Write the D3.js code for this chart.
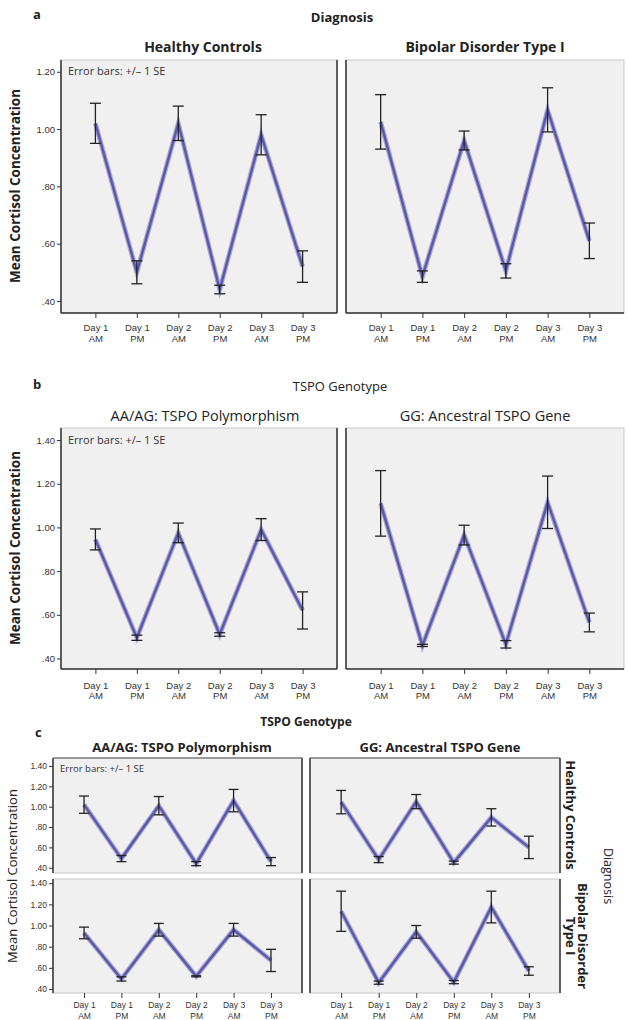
<!DOCTYPE html>
<html><head><meta charset="utf-8">
<script src="https://cdn.jsdelivr.net/npm/d3@7"></script>
<style>
html,body{margin:0;padding:0;background:#fff;}
svg{display:block;font-family:"Open Sans","DejaVu Sans",sans-serif;}
</style></head>
<body>
<svg id="chart" width="628" height="1020"></svg>
<script>
// ---------- DATA ----------
const timeDay = ["Day 1","Day 1","Day 2","Day 2","Day 3","Day 3"];
const timeHalf = ["AM","PM","AM","PM","AM","PM"];
const timepoints = timeDay.map((d,i)=>d+" "+timeHalf[i]);

const ticksAB_a = [0.40,0.60,0.80,1.00,1.20];
const ticksAB_b = [0.40,0.60,0.80,1.00,1.20,1.40];
const ticksC = [0.40,0.60,0.80,1.00,1.20,1.40];

// Panel a: Diagnosis
const aHealthyMean = [1.02,0.50,1.02,0.44,0.98,0.52];
const aHealthySE   = [0.07,0.04,0.06,0.015,0.07,0.055];
const aBipolarMean = [1.025,0.485,0.96,0.505,1.067,0.61];
const aBipolarSE   = [0.095,0.02,0.033,0.025,0.077,0.062];

// Panel b: TSPO genotype
const bPolyMean = [0.945,0.495,0.975,0.51,0.99,0.62];
const bPolySE   = [0.048,0.012,0.045,0.008,0.05,0.085];
const bAncMean  = [1.11,0.46,0.965,0.465,1.115,0.565];
const bAncSE    = [0.15,0.005,0.045,0.017,0.12,0.043];

// Panel c: genotype x diagnosis
const cHealthyPolyMean = [1.02,0.49,1.01,0.44,1.06,0.46];
const cHealthyPolySE   = [0.085,0.03,0.09,0.02,0.11,0.04];
const cHealthyAncMean  = [1.045,0.48,1.05,0.45,0.895,0.60];
const cHealthyAncSE    = [0.115,0.03,0.07,0.015,0.085,0.11];
const cBipolarPolyMean = [0.93,0.495,0.96,0.52,0.96,0.67];
const cBipolarPolySE   = [0.055,0.02,0.06,0.005,0.06,0.105];
const cBipolarAncMean  = [1.135,0.46,0.94,0.465,1.175,0.57];
const cBipolarAncSE    = [0.19,0.015,0.06,0.015,0.15,0.04];

// ---------- DRAW ----------
const svg = d3.select("#chart");
const LINE = "#5a58a8";
const fmt = v => { const s = v.toFixed(2); return s.startsWith("0") ? s.slice(1) : s; };

function panel(o){
  const g = svg.append("g");
  const x = d3.scalePoint().domain(timepoints).range([o.x, o.x+o.w]).padding(0.83);
  const y = d3.scaleLinear().domain(o.dom).range([o.y+o.h, o.y]);
  g.append("rect").attr("x",o.x).attr("y",o.y).attr("width",o.w).attr("height",o.h)
    .attr("fill","#f0f0f0").attr("stroke","#c8c8c8").attr("stroke-width",1);
  g.append("line").attr("x1",o.x).attr("x2",o.x).attr("y1",o.y).attr("y2",o.y+o.h).attr("stroke","#333").attr("stroke-width",1.5);
  if(o.rightDark) g.append("line").attr("x1",o.x+o.w).attr("x2",o.x+o.w).attr("y1",o.y).attr("y2",o.y+o.h).attr("stroke","#333").attr("stroke-width",1.5);
  if(o.topDark) g.append("line").attr("x1",o.x).attr("x2",o.x+o.w).attr("y1",o.y).attr("y2",o.y).attr("stroke","#555").attr("stroke-width",1.2);
  if(o.bottomDark) g.append("line").attr("x1",o.x).attr("x2",o.x+o.w).attr("y1",o.y+o.h).attr("y2",o.y+o.h).attr("stroke","#333").attr("stroke-width",1.5);
  if(o.yTicks){
    const ya = g.append("g").attr("transform",`translate(${o.x},0)`)
      .call(d3.axisLeft(y).tickValues(o.yTicks).tickFormat(fmt).tickSize(4).tickPadding(2));
    ya.select(".domain").remove();
    ya.selectAll("line").attr("stroke","#333");
    ya.selectAll("text").attr("font-size",o.fs||9.5).attr("fill","#333");
  }
  if(o.xTicks){
    const xa = g.append("g").attr("transform",`translate(0,${o.y+o.h})`)
      .call(d3.axisBottom(x).tickSize(5).tickFormat(""));
    xa.select(".domain").remove();
    xa.selectAll("line").attr("stroke","#333");
    xa.selectAll(".tick").append("text").attr("text-anchor","middle").attr("fill","#333")
      .attr("font-size",o.fs||9.5)
      .each(function(d,i){
        const t = d3.select(this);
        t.append("tspan").attr("x",0).attr("y",o.xl1).text(timeDay[i]);
        t.append("tspan").attr("x",0).attr("y",o.xl2).text(timeHalf[i]);
      });
  }
  const pts = o.mean.map((m,i)=>({t:timepoints[i], m, se:o.se[i]}));
  g.append("path").datum(pts).attr("fill","none").attr("stroke","#a9a8d6").attr("stroke-width",4.8)
    .attr("d", d3.line().x(d=>x(d.t)).y(d=>y(d.m)));
  g.append("path").datum(pts).attr("fill","none").attr("stroke",LINE).attr("stroke-width",2.4)
    .attr("d", d3.line().x(d=>x(d.t)).y(d=>y(d.m)));
  const cw = o.cap||5.5;
  const eb = g.append("g").attr("stroke","#222").attr("stroke-width",1.3);
  pts.forEach(d=>{
    const cx = x(d.t), y1 = y(d.m+d.se), y0 = y(d.m-d.se);
    eb.append("line").attr("x1",cx).attr("x2",cx).attr("y1",y1).attr("y2",y0);
    eb.append("line").attr("x1",cx-cw).attr("x2",cx+cw).attr("y1",y1).attr("y2",y1);
    eb.append("line").attr("x1",cx-cw).attr("x2",cx+cw).attr("y1",y0).attr("y2",y0);
  });
  if(o.note){
    g.append("text").attr("x",o.x+7).attr("y",o.y+o.noteDy).attr("font-size",o.noteFs||11).attr("fill","#333").text("Error bars: +/\u2013 1 SE");
  }
  return {x,y};
}

function txt(x,y,s,opt={}){
  const t = svg.append("text").attr("x",x).attr("y",y).text(s)
    .attr("font-size",opt.fs||13).attr("font-weight",opt.fw||"normal")
    .attr("text-anchor",opt.anchor||"middle").attr("fill",opt.fill||"#222");
  if(opt.rot!=null) t.attr("transform",`rotate(${opt.rot},${x},${y})`);
  return t;
}

// ===== Panel a =====
txt(33,19,"a",{fs:13,fw:"bold",anchor:"start"});
txt(342,22,"Diagnosis",{fs:13,fw:"bold"});
txt(203,52,"Healthy Controls",{fs:14,fw:"bold"});
txt(485,52,"Bipolar Disorder Type I",{fs:14,fw:"bold"});
panel({x:61,y:60,w:276,h:253,dom:[0.358,1.241],mean:aHealthyMean,se:aHealthySE,yTicks:ticksAB_a,xTicks:true,xl1:18,xl2:29,rightDark:true,bottomDark:true,note:true,noteDy:15});
panel({x:346,y:60,w:278,h:253,dom:[0.358,1.241],mean:aBipolarMean,se:aBipolarSE,xTicks:true,xl1:18,xl2:29,bottomDark:true});
txt(20,186,"Mean Cortisol Concentration",{fs:13.5,fw:"bold",rot:-90});

// ===== Panel b =====
txt(33,389,"b",{fs:13,fw:"bold",anchor:"start"});
txt(340,391,"TSPO Genotype",{fs:13});
txt(205,421,"AA/AG: TSPO Polymorphism",{fs:14.5});
txt(485,421,"GG: Ancestral TSPO Gene",{fs:14.5});
panel({x:61,y:428,w:276,h:241,dom:[0.352,1.455],mean:bPolyMean,se:bPolySE,yTicks:ticksAB_b,xTicks:true,xl1:20,xl2:30,rightDark:true,bottomDark:true,note:true,noteDy:16});
panel({x:346,y:428,w:278,h:241,dom:[0.352,1.455],mean:bAncMean,se:bAncSE,xTicks:true,xl1:20,xl2:30,bottomDark:true});
txt(20,548,"Mean Cortisol Concentration",{fs:13.5,fw:"bold",rot:-90});

// ===== Panel c =====
txt(35,737,"c",{fs:13,fw:"bold",anchor:"start"});
txt(306,726,"TSPO Genotype",{fs:12,fw:"bold"});
txt(182,752,"AA/AG: TSPO Polymorphism",{fs:13,fw:"bold"});
txt(440,752,"GG: Ancestral TSPO Gene",{fs:13,fw:"bold"});
panel({x:53,y:758,w:249,h:115,dom:[0.348,1.479],mean:cHealthyPolyMean,se:cHealthyPolySE,yTicks:ticksC,rightDark:true,topDark:true,note:true,noteDy:14,noteFs:9.5,fs:8.5,cap:5});
panel({x:310,y:758,w:250,h:115,dom:[0.348,1.479],mean:cHealthyAncMean,se:cHealthyAncSE,rightDark:true,topDark:true,cap:5});
panel({x:53,y:879,w:249,h:114,dom:[0.362,1.44],mean:cBipolarPolyMean,se:cBipolarPolySE,yTicks:ticksC,xTicks:true,xl1:15,xl2:26,rightDark:true,fs:8.5,cap:5});
panel({x:310,y:879,w:250,h:114,dom:[0.362,1.44],mean:cBipolarAncMean,se:cBipolarAncSE,xTicks:true,xl1:15,xl2:26,rightDark:true,fs:8.5,cap:5});
txt(17,876,"Mean Cortisol Concentration",{fs:13,rot:-90});
txt(566,815,"Healthy Controls",{fs:13,fw:"bold",rot:90});
txt(578,936,"Bipolar Disorder",{fs:13,fw:"bold",rot:90});
txt(566,936,"Type I",{fs:13,fw:"bold",rot:90});
txt(604,876,"Diagnosis",{fs:12.5,rot:90});
</script>
</body></html>
